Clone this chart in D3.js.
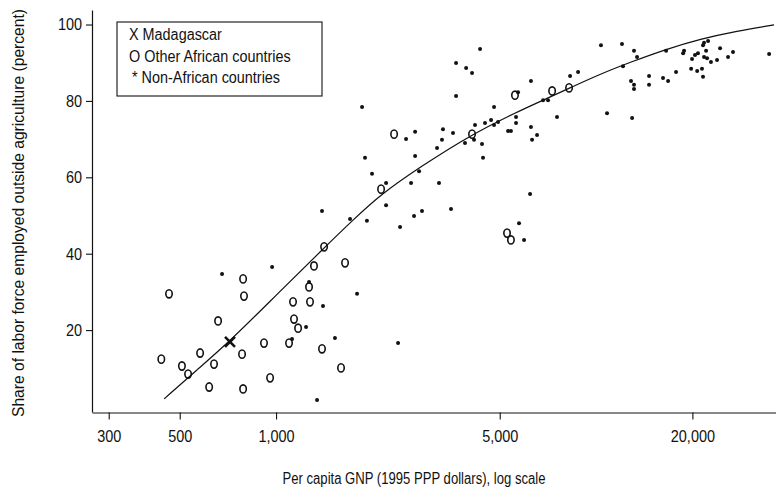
<!DOCTYPE html>
<html><head><meta charset="utf-8">
<script src="https://cdn.jsdelivr.net/npm/d3@7"></script>
<style>
html,body{margin:0;padding:0;background:#fff;}
text{font-family:"Liberation Sans Narrow","Arial Narrow","Liberation Sans",Arial,sans-serif;fill:#111;}
</style></head>
<body>
<svg id="chart" width="776" height="492"></svg>
<script>
// ---- data (per capita GNP in 1995 PPP dollars, share of labour outside agriculture in %) ----
const madagascar = [[718, 16.9]];
const otherAfrican = [
  [463,29.5],[438,12.4],[508,10.6],[531,8.5],[579,14.0],[618,5.1],[640,11.1],[659,22.4],
  [789,33.4],[794,28.9],[783,13.7],[789,4.6],[917,16.6],[958,7.5],[1098,16.6],[1130,27.4],
  [1138,22.9],[1172,20.5],[1277,27.4],[1268,31.3],[1314,36.8],[1413,41.8],[1392,15.1],[1596,10.1],
  [1643,37.6],[2129,56.9],[2338,71.3],[4097,71.3],[5580,81.5],[7289,82.6],[8235,83.4],[5270,45.4],[5420,43.6]
];
const nonAfrican = [
  [1392,51.2],[1703,49.1],[1923,48.6],[2207,52.7],[2441,47.0],[678,34.7],[972,36.5],[1268,32.6],
  [1791,29.5],[1402,26.3],[1241,20.8],[1122,17.7],[1528,17.9],[2406,16.6],[1343,1.7],
  [4341,93.6],[10360,94.6],[3652,89.9],[3926,88.6],[4097,87.3],[6260,85.2],[8295,86.5],[8787,87.6],
  [5704,82.3],[1857,78.4],[3652,81.3],[4800,78.4],[6830,80.2],[7079,80.2],[10820,76.8],[7551,75.8],
  [5623,75.8],[5623,74.2],[4186,73.7],[4498,74.2],[4698,75.0],[4940,74.5],[4800,73.7],[5309,72.1],
  [5420,72.1],[6260,73.2],[6540,71.1],[6310,69.8],[2720,71.9],[3324,72.6],[2548,70.0],[3300,69.8],
  [3573,71.6],[4156,69.8],[3894,69.0],[4402,68.7],[3185,67.7],[1897,65.1],[2720,65.6],[4434,65.1],
  [1995,60.9],[2798,61.6],[2642,58.5],[3230,58.5],[2207,58.5],[2699,49.9],[2858,51.2],[3522,51.7],
  [6220,55.6],[5745,48.0],[5957,43.6],
  [12050,94.9],[13140,93.1],[13430,91.5],[12140,89.1],[12860,85.2],[13140,84.2],[13140,83.1],
  [14640,86.5],[14640,84.2],[16190,86.0],[16790,85.2],[16550,93.1],[17780,87.6],[18840,93.1],
  [18710,92.5],[19820,88.4],[20700,87.8],[21430,88.4],[21590,86.3],[19950,91.0],[20380,92.0],
  [20820,92.5],[21590,94.6],[21750,95.2],[22390,95.7],[22070,93.1],[21750,91.5],[22230,91.2],
  [22860,90.2],[23880,90.7],[24410,93.8],[25850,91.5],[26790,92.8],[34740,92.3],[12960,75.5]
];
const fitCurve = [
  [447,2.0],[566,9.6],[718,17.1],[1002,29.2],[1413,41.5],[1728,48.6],[2129,55.6],[2818,62.7],
  [4097,71.3],[5662,77.1],[6829,80.2],[8290,83.4],[10290,87.0],[13050,90.4],[16670,93.6],
  [21130,96.2],[27540,98.3],[36000,99.9]
];
const xTicks = [300, 500, 1000, 5000, 20000];
const yTicks = [20, 40, 60, 80, 100];
const legendLabels = ["X Madagascar", "O Other African countries", "* Non-African countries"];

// ---- layout ----
const svg = d3.select("#chart");
const x = d3.scaleLog().domain([266, 36500]).range([92, 776]);
const y = d3.scaleLinear().domain([-1.44, 103.8]).range([412, 10]);

function condense(sel, f){
  sel.each(function(){
    const w = this.getComputedTextLength();
    d3.select(this).attr("textLength", w*f).attr("lengthAdjust","spacingAndGlyphs");
  });
}

// axes
const yAxis = svg.append("g").attr("transform","translate(92,0)")
  .call(d3.axisLeft(y).tickValues(yTicks).tickSize(6).tickSizeOuter(0).tickPadding(4));
const xAxis = svg.append("g").attr("transform","translate(0,412.5)")
  .call(d3.axisBottom(x).tickValues(xTicks).tickFormat(d3.format(",")).tickSize(7).tickSizeOuter(0).tickPadding(10));
[yAxis, xAxis].forEach(g=>{
  g.select(".domain").attr("stroke","#111").attr("stroke-width",1.2);
  g.selectAll(".tick line").attr("stroke","#111").attr("stroke-width",1.1);
  g.selectAll(".tick text").style("font-size","17px").attr("fill","#111")
    .style("font-family",'"Liberation Sans Narrow","Arial Narrow","Liberation Sans",Arial,sans-serif');
  condense(g.selectAll(".tick text"), 0.85);
});
xAxis.selectAll(".tick text").attr("dy","0.71em");

// axis titles
svg.append("text").attr("x",414).attr("y",484).attr("text-anchor","middle")
  .style("font-size","16px").attr("textLength",263).attr("lengthAdjust","spacingAndGlyphs")
  .text("Per capita GNP (1995 PPP dollars), log scale");
svg.append("text").attr("transform","translate(24,213) rotate(-90)").attr("text-anchor","middle")
  .style("font-size","16px").attr("textLength",408).attr("lengthAdjust","spacingAndGlyphs")
  .text("Share of labor force employed outside agriculture (percent)");

// fitted curve
svg.append("path").datum(fitCurve)
  .attr("d", d3.line().x(d=>x(d[0])).y(d=>y(d[1])).curve(d3.curveBasis))
  .attr("fill","none").attr("stroke","#111").attr("stroke-width",1.2);

// non-African dots
svg.append("g").selectAll("circle").data(nonAfrican).join("circle")
  .attr("cx",d=>x(d[0])).attr("cy",d=>y(d[1])).attr("r",2).attr("fill","#111");

// other African circles
svg.append("g").selectAll("ellipse").data(otherAfrican).join("ellipse")
  .attr("cx",d=>x(d[0])).attr("cy",d=>y(d[1])).attr("rx",3.2).attr("ry",4.1)
  .attr("fill","none").attr("stroke","#111").attr("stroke-width",1.6);

// Madagascar X
svg.append("g").selectAll("path").data(madagascar).join("path")
  .attr("d",d=>{const cx=x(d[0]), cy=y(d[1]), s=5;
    return `M${cx-s},${cy-s}L${cx+s},${cy+s}M${cx+s},${cy-s}L${cx-s},${cy+s}`;})
  .attr("stroke","#111").attr("stroke-width",2.6).attr("fill","none");

// legend
const lg = svg.append("g");
lg.append("rect").attr("x",117).attr("y",22).attr("width",205).attr("height",74)
  .attr("fill","#fff").attr("stroke","#111").attr("stroke-width",1.1);
const lt = lg.selectAll("text").data(legendLabels).join("text")
  .attr("x",(d,i)=> i===2 ? 132 : 129).attr("y",(d,i)=>40+i*21.5)
  .style("font-size","16px").text(d=>d);
condense(lt, 0.9);
</script>
</body></html>
